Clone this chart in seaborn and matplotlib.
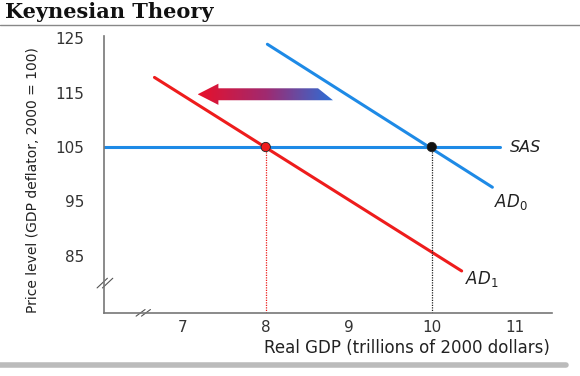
import numpy as np
import pandas as pd
import seaborn as sns
import matplotlib
matplotlib.use("Agg")
import matplotlib.pyplot as plt
from matplotlib.patches import Polygon
from matplotlib.colors import LinearSegmentedColormap

# datos de las curvas
sas_x = [6.05, 10.82]
sas_y = [105, 105]
ad0_x = [8.02, 10.73]
ad0_y = [123.9, 97.6]
ad1_x = [6.66, 10.36]
ad1_y = [117.8, 82.2]
eq_x = [8, 10]
eq_y = [105, 105]
xticks = [7, 8, 9, 10, 11]
yticks = [85, 95, 105, 115, 125]

# flecha de desplazamiento (AD0 -> AD1)
flecha_y = 114.7
flecha_punta = 7.18
flecha_base = 7.43
flecha_cola = [8.63, 8.81]

azul = "#1e8ae6"
rojo = "#ee1c1c"

sns.set_style("white")
plt.rcParams['font.family'] = ['DejaVu Sans']

fig = plt.figure(figsize=(5.8, 3.76), dpi=100)
ax = fig.add_axes([0.179, 0.168, 0.773, 0.736])

df = pd.concat([
    pd.DataFrame({'x': sas_x, 'y': sas_y, 'curva': 'SAS'}),
    pd.DataFrame({'x': ad0_x, 'y': ad0_y, 'curva': 'AD0'}),
    pd.DataFrame({'x': ad1_x, 'y': ad1_y, 'curva': 'AD1'}),
])
sns.lineplot(data=df, x='x', y='y', hue='curva', palette={'SAS': azul, 'AD0': azul, 'AD1': rojo},
             linewidth=2.2, legend=False, ax=ax, estimator=None, sort=False)

# lineas punteadas hasta el eje
ax.vlines(eq_x[0], 74.5, eq_y[0], colors=rojo, linestyles=(0, (1, 1)), linewidth=0.9)
ax.vlines(eq_x[1], 74.5, eq_y[1], colors="#222222", linestyles=(0, (1, 1)), linewidth=0.9)

pts = pd.DataFrame({'x': eq_x, 'y': eq_y, 'c': ['r', 'k']})
sns.scatterplot(data=pts, x='x', y='y', hue='c', palette={'r': rojo, 'k': '#111111'},
                s=45, edgecolor='#222222', linewidth=0.6, legend=False, ax=ax, zorder=5)

# flecha con degradado
h_eje, h_punta = 1.1, 1.95
verts = [(flecha_punta, flecha_y), (flecha_base, flecha_y + h_punta), (flecha_base, flecha_y + h_eje),
         (flecha_cola[0], flecha_y + h_eje), (flecha_cola[1], flecha_y - h_eje),
         (flecha_base, flecha_y - h_eje), (flecha_base, flecha_y - h_punta)]
poly = Polygon(verts, closed=True, facecolor='none', edgecolor='none')
ax.add_patch(poly)
cmap = LinearSegmentedColormap.from_list('g', ["#e8102a", "#a02a70", "#2a6fd8"])
grad = np.linspace(0, 1, 256).reshape(1, -1)
im = ax.imshow(grad, cmap=cmap, aspect='auto', interpolation='bilinear',
               extent=[flecha_punta, flecha_cola[1], flecha_y - h_punta, flecha_y + h_punta], zorder=4)
im.set_clip_path(poly)

# etiquetas de curvas
ax.text(10.94, 105, "SAS", style='italic', fontsize=11.5, color='#222222', va='center', ha='left')
ax.text(10.75, 94.8, "AD$_0$", style='italic', fontsize=12, color='#222222', va='center', ha='left')
ax.text(10.4, 80.8, "AD$_1$", style='italic', fontsize=12, color='#222222', va='center', ha='left')

ax.set_xlim(6.05, 11.45)
ax.set_ylim(74.5, 125.4)
ax.set_xticks(xticks)
ax.set_yticks(yticks)
ax.tick_params(direction='in', length=5, width=0.8, colors='#555555', labelcolor='#333333', labelsize=11)
ax.tick_params(axis='x', pad=5)
ax.tick_params(axis='y', pad=14)
for s in ['top', 'right']:
    ax.spines[s].set_visible(False)
for s in ['left', 'bottom']:
    ax.spines[s].set_color('#777777')
    ax.spines[s].set_linewidth(1.2)
ax.set_xlabel("")
ax.set_ylabel("")

# marcas de corte de los ejes
for dx in (0, 0.012):
    ax.plot([-0.015 + dx, 0.008 + dx], [0.09, 0.125], transform=ax.transAxes, color='#555555', lw=0.8, clip_on=False)
for dx in (0, 0.012):
    ax.plot([0.072 + dx, 0.092 + dx], [-0.012, 0.012], transform=ax.transAxes, color='#555555', lw=0.8, clip_on=False)

fig.text(0.948, 0.074, "Real GDP (trillions of 2000 dollars)", ha='right', va='center', fontsize=12, color='#222222')
fig.text(0.057, 0.52, "Price level (GDP deflator, 2000 = 100)", rotation=90, ha='center', va='center',
         fontsize=10, color='#222222', family=['Liberation Sans Narrow', 'DejaVu Sans'])

fig.text(0.008, 0.968, "Keynesian Theory", fontsize=15, fontweight='bold', family=['DejaVu Serif'],
         va='center', ha='left', color='#111111')
fig.add_artist(plt.Line2D([0, 1], [0.933, 0.933], color='#888888', lw=1))
fig.add_artist(plt.Line2D([0, 0.975], [0.03, 0.03], color='#bbbbbb', lw=4))

fig.savefig("out.png", dpi=100)
